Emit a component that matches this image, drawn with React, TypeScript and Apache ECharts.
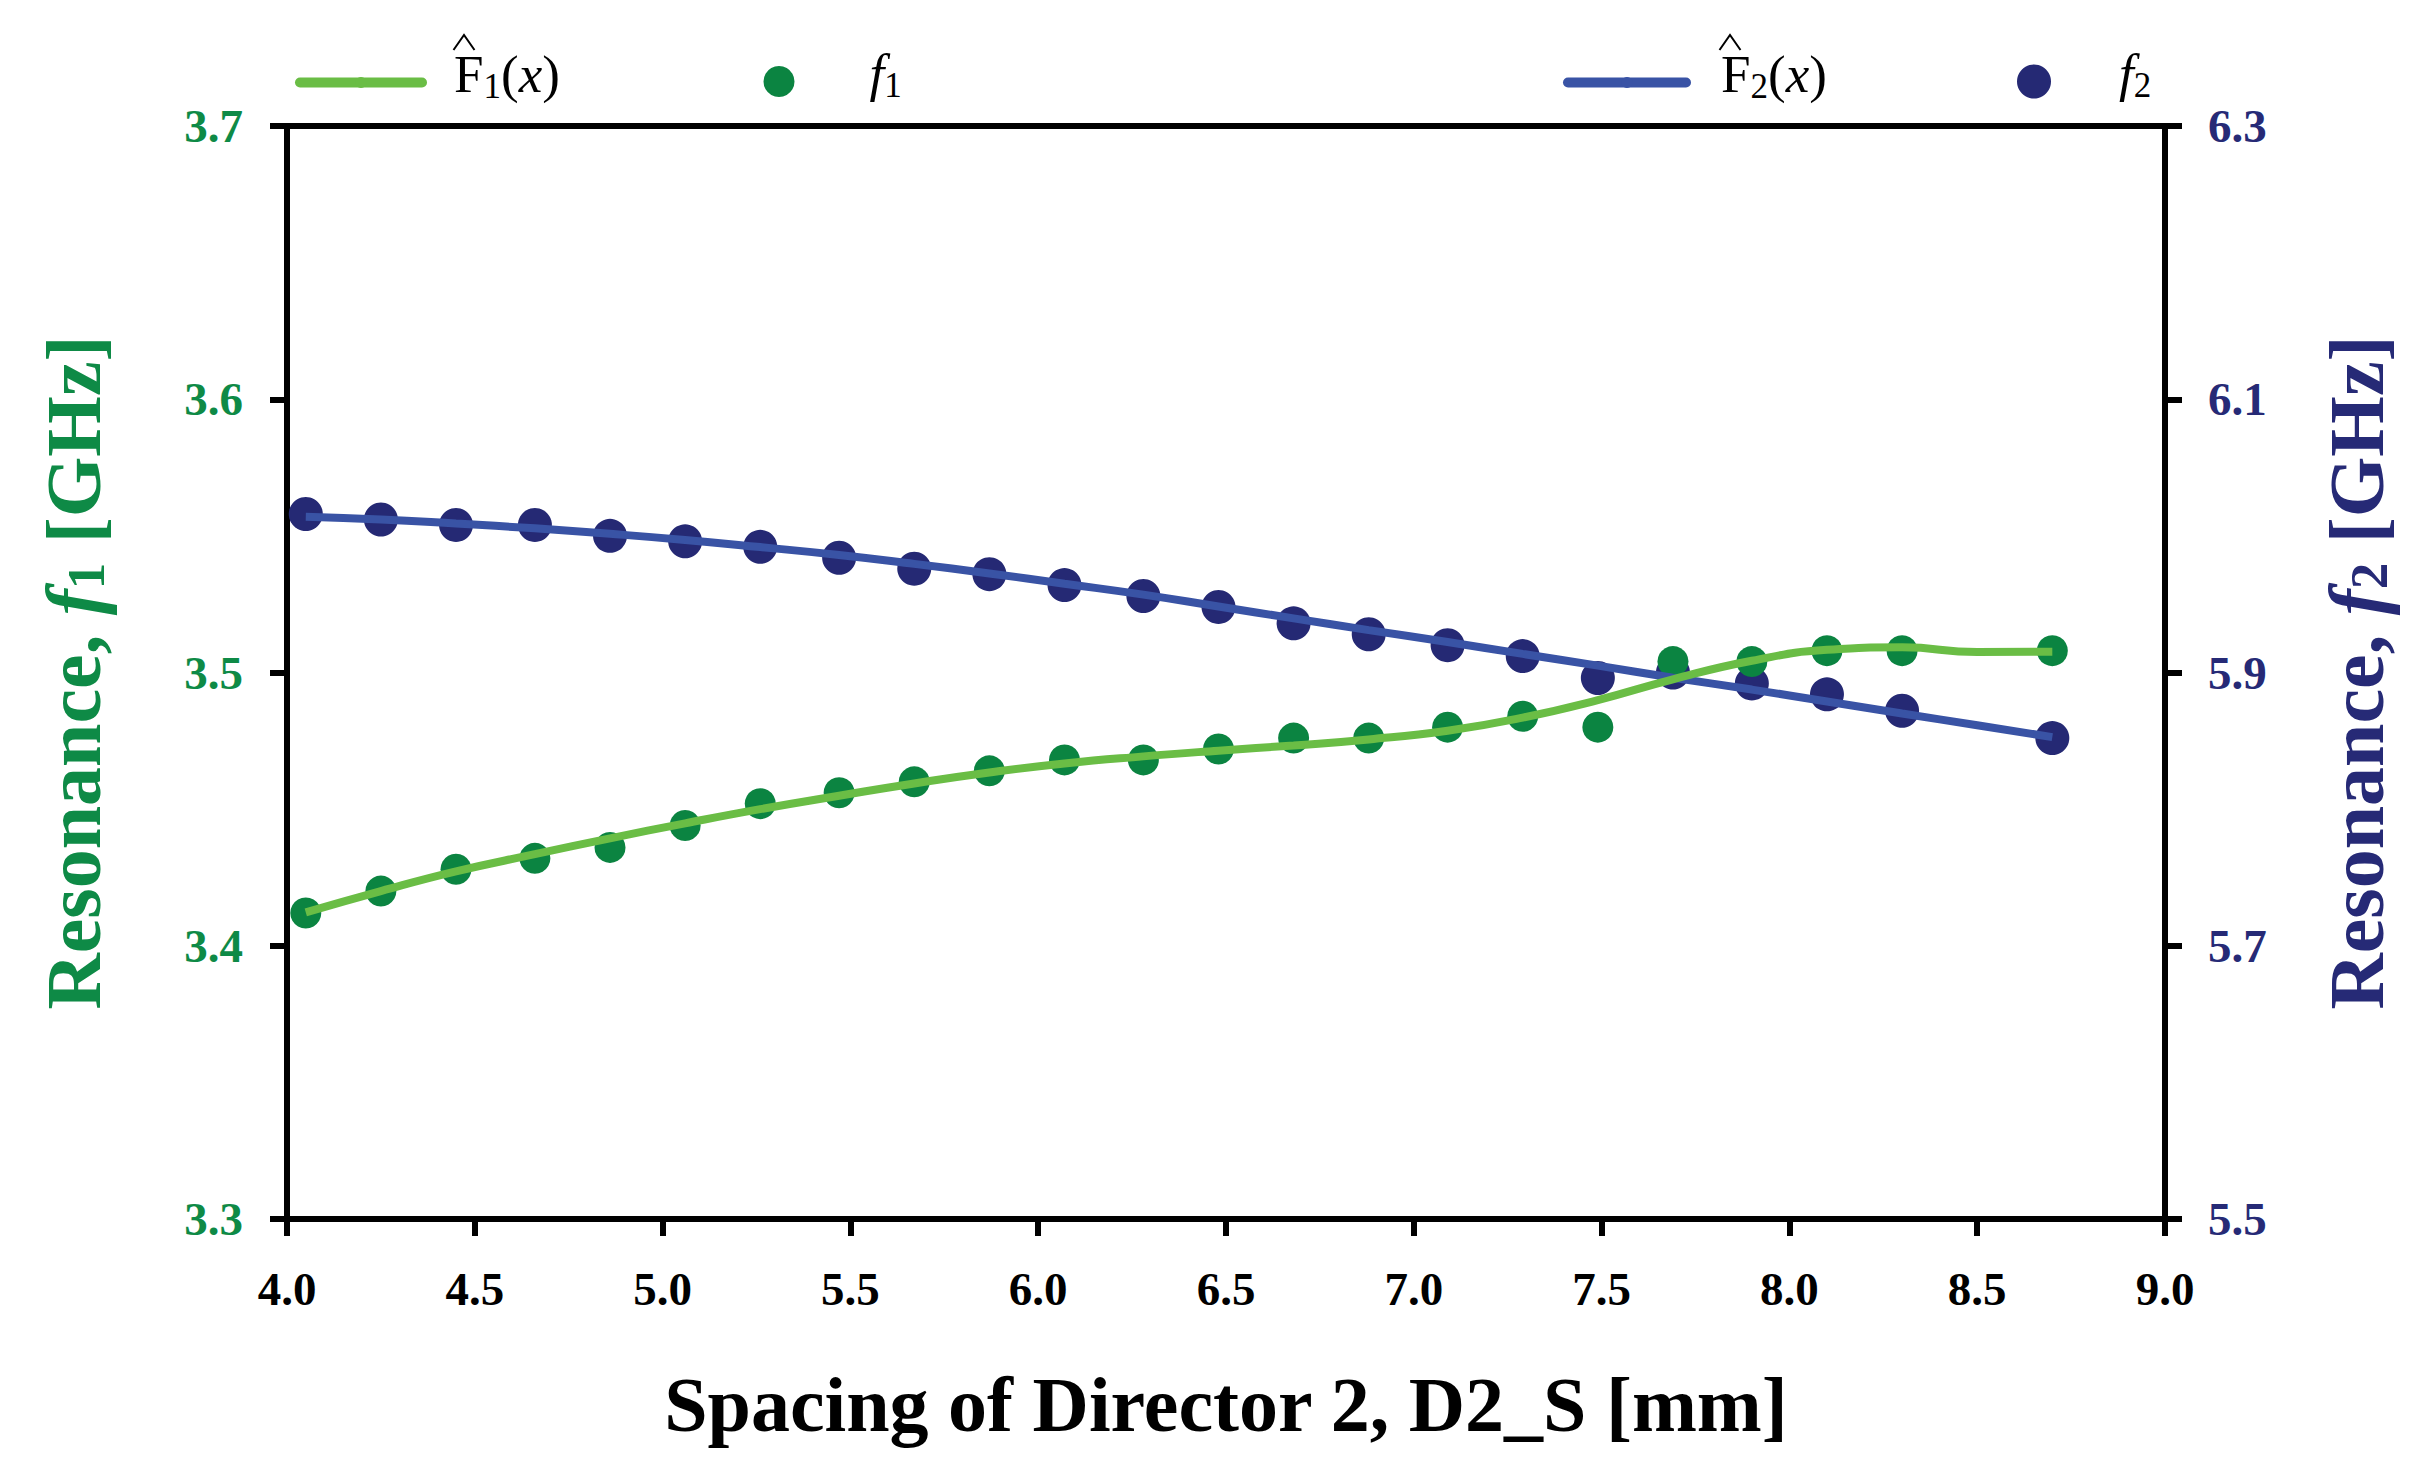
import React, { useEffect, useRef } from 'react';
import * as echarts from 'echarts';

// ---- data ----
const xValues = [4.05, 4.25, 4.45, 4.66, 4.86, 5.06, 5.26, 5.47, 5.67, 5.87, 6.07, 6.28, 6.48, 6.68, 6.88, 7.09, 7.29, 7.49, 7.69, 7.9, 8.1, 8.3, 8.7];
const f1Values = [3.412, 3.42, 3.428, 3.432, 3.436, 3.444, 3.452, 3.456, 3.46, 3.464, 3.468, 3.468, 3.472, 3.476, 3.476, 3.48, 3.484, 3.48, 3.504, 3.504, 3.508, 3.508, 3.508];
const f2Values = [6.016, 6.012, 6.008, 6.008, 6.0, 5.996, 5.992, 5.984, 5.976, 5.972, 5.964, 5.956, 5.948, 5.936, 5.928, 5.92, 5.912, 5.896, 5.9, 5.892, 5.884, 5.872, 5.852];

const fitX = [4.05, 4.25, 4.45, 4.66, 4.86, 5.06, 5.26, 5.47, 5.67, 5.87, 6.07, 6.28, 6.48, 6.68, 6.88, 7.09, 7.29, 7.49, 7.69, 7.9, 8.1, 8.3, 8.5, 8.7];
const fit1Values = [3.4122, 3.42, 3.4272, 3.4335, 3.4393, 3.4448, 3.45, 3.4549, 3.4594, 3.4634, 3.4667, 3.4693, 3.4714, 3.4733, 3.4755, 3.4787, 3.4835, 3.4899, 3.4975, 3.5043, 3.5083, 3.5092, 3.5075, 3.5076];
const fit2Values = [6.014, 6.012, 6.009, 6.0055, 6.0015, 5.997, 5.9918, 5.986, 5.9795, 5.9725, 5.965, 5.957, 5.9483, 5.9396, 5.931, 5.9223, 5.9136, 5.905, 5.8962, 5.8875, 5.8788, 5.87, 5.8614, 5.8527];

const xAxisRange = [4, 9, 0.5];
const leftAxisRange = [3.3, 3.7, 0.1];
const rightAxisRange = [5.5, 6.3, 0.2];

const FONT = '"Liberation Serif", "Times New Roman", serif';
const GREEN_DOT = '#0B8441';
const GREEN_LINE = '#6ABD45';
const NAVY_DOT = '#252974';
const BLUE_LINE = '#3953A5';
const GREEN_TEXT = '#0E8A46';
const NAVY_TEXT = '#262A76';

const legendRich = {
  m: { fontFamily: FONT, fontSize: 53, lineHeight: 60, color: '#000' },
  i: { fontFamily: FONT, fontSize: 53, lineHeight: 60, color: '#000', fontStyle: 'italic' },
  s: { fontFamily: FONT, fontSize: 35, lineHeight: 16, color: '#000', verticalAlign: 'bottom' },
};

function titleRich(color: string) {
  return {
    b: { fontFamily: FONT, fontSize: 78, lineHeight: 78, fontWeight: 'bold', color },
    i: { fontFamily: FONT, fontSize: 78, lineHeight: 78, fontWeight: 'bold', fontStyle: 'italic', color },
    s: { fontFamily: FONT, fontSize: 53, lineHeight: 13, fontWeight: 'bold', color, verticalAlign: 'bottom' },
  };
}

export default function App() {
  const ref = useRef<HTMLDivElement>(null);
  useEffect(() => {
    document.body.style.margin = '0';
    const chart = echarts.init(ref.current!, null, { renderer: 'svg' });
    const tickLabel = (color: string, margin: number) => ({
      margin,
      fontFamily: FONT,
      fontSize: 47,
      fontWeight: 'bold',
      color,
      formatter: (v: number) => v.toFixed(1),
    });
    const axisLine = { show: true, onZero: false, lineStyle: { color: '#000', width: 6 } };
    const axisTick = { show: true, inside: false, length: 17, lineStyle: { color: '#000', width: 6 } };
    const hat = (cx: number) => ({
      type: 'polyline',
      shape: { points: [[cx - 10.5, 50], [cx, 35], [cx + 10.5, 50]] },
      style: { stroke: '#000', lineWidth: 2, fill: 'none' },
      silent: true,
    });
    const option: any = {
      animation: false,
      backgroundColor: '#ffffff',
      grid: {
        left: 287, top: 126, width: 1878, height: 1093,
        show: true, borderColor: '#000', borderWidth: 6, backgroundColor: 'transparent',
      },
      xAxis: {
        type: 'value',
        min: xAxisRange[0], max: xAxisRange[1], interval: xAxisRange[2],
        axisLine, axisTick,
        splitLine: { show: false },
        axisLabel: tickLabel('#000', 46),
        name: 'Spacing of Director 2, D2_S [mm]',
        nameLocation: 'middle',
        nameGap: 146,
        nameTextStyle: { fontFamily: FONT, fontSize: 78, lineHeight: 78, fontWeight: 'bold', color: '#000' },
      },
      yAxis: [
        {
          type: 'value', position: 'left',
          min: leftAxisRange[0], max: leftAxisRange[1], interval: leftAxisRange[2],
          axisLine, axisTick,
          splitLine: { show: false },
          axisLabel: tickLabel(GREEN_TEXT, 44),
          name: '{b|Resonance, }{i|f}{s|1}{b| [GHz]}',
          nameLocation: 'middle',
          nameRotate: 90,
          nameGap: 175,
          nameTextStyle: { rich: titleRich(GREEN_TEXT) },
        },
        {
          type: 'value', position: 'right',
          min: rightAxisRange[0], max: rightAxisRange[1], interval: rightAxisRange[2],
          axisLine, axisTick,
          splitLine: { show: false },
          axisLabel: tickLabel(NAVY_TEXT, 43),
          name: '{b|Resonance, }{i|f}{s|2}{b| [GHz]}',
          nameLocation: 'middle',
          nameRotate: 90,
          nameGap: 152,
          nameTextStyle: { rich: titleRich(NAVY_TEXT) },
        },
      ],
      legend: [
        {
          data: ['F1fit'], left: 295, top: 47.5, padding: 0, itemWidth: 122, itemHeight: 14,
          selectedMode: false, lineStyle: { width: 10, cap: 'round' },
          formatter: () => '{m|F}{s|1}{m|(}{i|x}{m|)}',
          textStyle: { padding: [0, 0, 17, 27], rich: legendRich },
        },
        {
          data: ['f1'], left: 763.5, top: 46.5, padding: 0, itemWidth: 31, itemHeight: 31,
          selectedMode: false, icon: 'circle',
          formatter: () => '{i|f}{s|1}',
          textStyle: { padding: [0, 0, 17, 70], rich: legendRich },
        },
        {
          data: ['F2fit'], left: 1563, top: 47.5, padding: 0, itemWidth: 118, itemHeight: 14,
          selectedMode: false, lineStyle: { width: 10, cap: 'round' },
          formatter: () => '{m|F}{s|2}{m|(}{i|x}{m|)}',
          textStyle: { padding: [0, 0, 17, 30], rich: legendRich },
        },
        {
          data: ['f2'], left: 2017, top: 46.5, padding: 0, itemWidth: 34, itemHeight: 34,
          selectedMode: false, icon: 'circle',
          formatter: () => '{i|f}{s|2}',
          textStyle: { padding: [0, 0, 17, 63], rich: legendRich },
        },
      ],
      graphic: [hat(464), hat(1730)],
      series: [
        {
          name: 'F2fit', type: 'line', yAxisIndex: 1,
          data: fitX.map((x, i) => [x, fit2Values[i]]),
          smooth: true, symbol: 'none',
          lineStyle: { color: BLUE_LINE, width: 8 }, itemStyle: { color: BLUE_LINE },
        },
        {
          name: 'f2', type: 'scatter', yAxisIndex: 1,
          data: xValues.map((x, i) => [x, f2Values[i]]),
          symbol: 'circle', symbolSize: 34,
          itemStyle: { color: NAVY_DOT, opacity: 1 },
        },
        {
          name: 'F1fit', type: 'line', yAxisIndex: 0,
          data: fitX.map((x, i) => [x, fit1Values[i]]),
          smooth: true, symbol: 'none',
          lineStyle: { color: GREEN_LINE, width: 8 }, itemStyle: { color: GREEN_LINE },
        },
        {
          name: 'f1', type: 'scatter', yAxisIndex: 0,
          data: xValues.map((x, i) => [x, f1Values[i]]),
          symbol: 'circle', symbolSize: 31,
          itemStyle: { color: GREEN_DOT, opacity: 1 },
        },
      ],
    };
    chart.setOption(option);
    return () => chart.dispose();
  }, []);
  return <div ref={ref} style={{ width: 2433, height: 1473 }} />;
}
